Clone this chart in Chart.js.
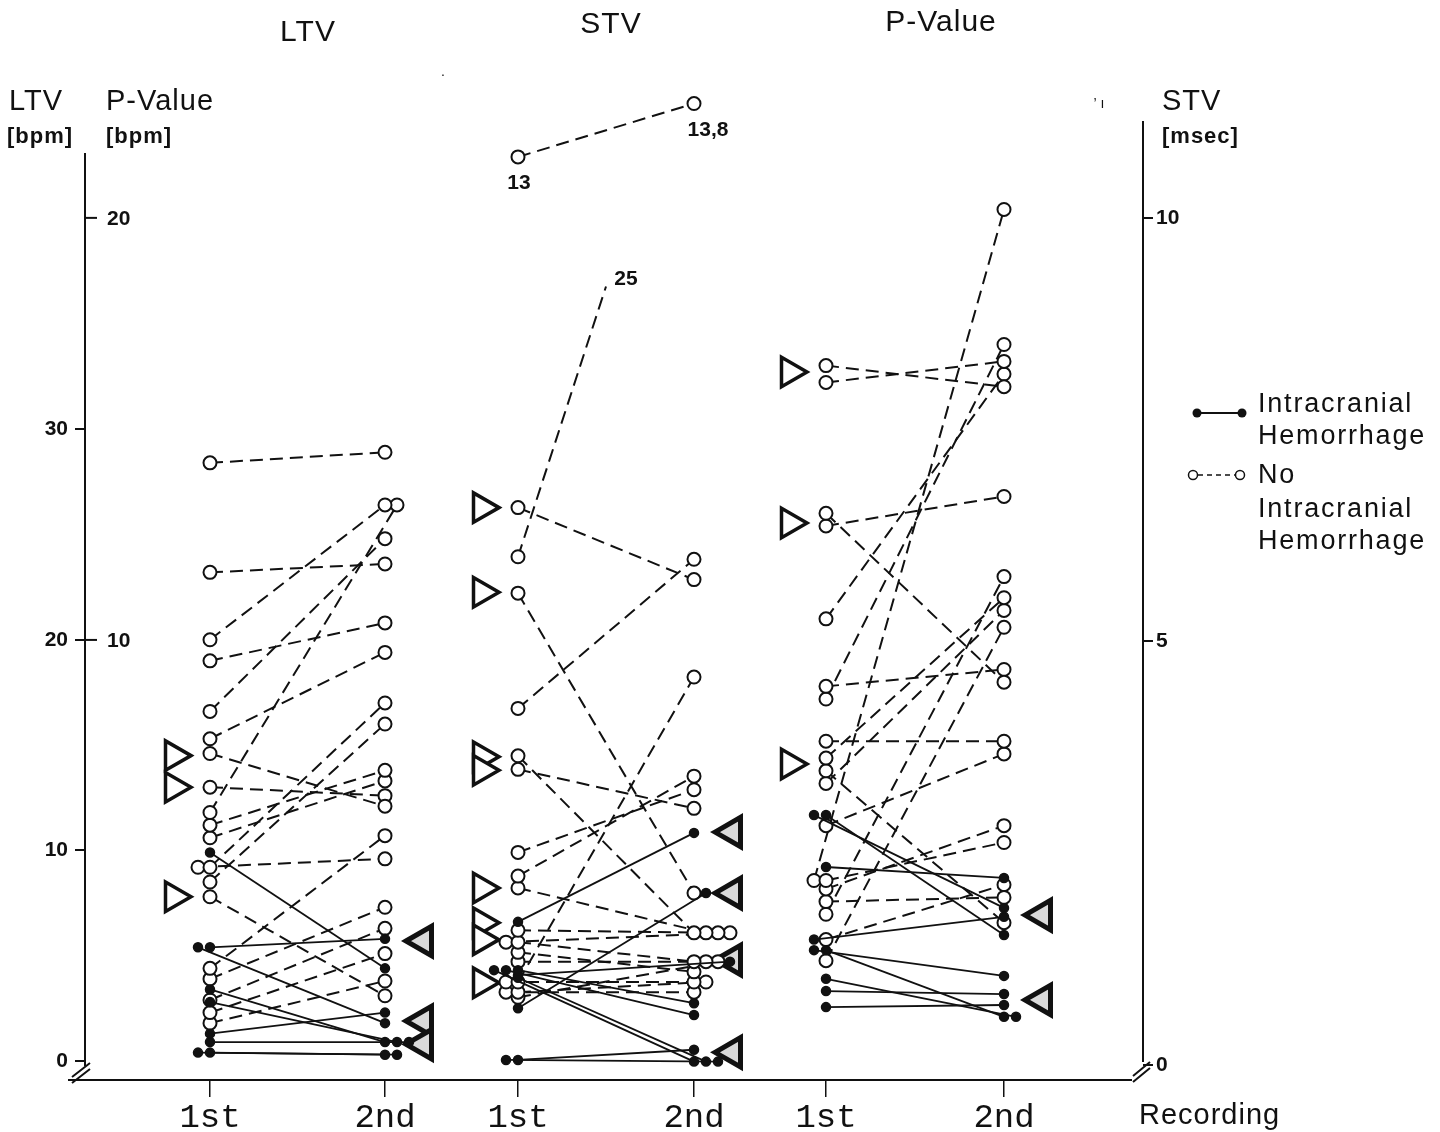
<!DOCTYPE html>
<html lang="en">
<head>
<meta charset="UTF-8">
<title>LTV, STV and P-Value at 1st and 2nd recording</title>
<script src="https://cdn.jsdelivr.net/npm/chart.js"></script>
<style>
body { margin: 0; background: #fff; }
#wrap { width: 1440px; height: 1132px; }
</style>
</head>
<body>
<div id="wrap"><canvas id="chart" width="1440" height="1132"></canvas></div>
<script>
const recordings = ['1st', '2nd'];
const ltvTicks = [0, 10, 20, 30];
const pTicks = [10, 20];
const stvTicks = [0, 5, 10];

// LTV [bpm] - one entry per patient, 1st and 2nd recording
const ltvNoIch1st = [28.4, 23.2, 20.0, 19.0, 16.6, 15.3, 14.6, 13.0, 11.8, 11.2, 10.6, 9.2, 9.2, 8.5, 7.8, 4.4, 3.9, 2.9, 2.3, 1.8];
const ltvNoIch2nd = [28.9, 23.6, 26.4, 20.8, 24.8, 19.4, 12.1, 12.6, 26.4, 13.8, 13.3, 17.0, 9.6, 16.0, 3.1, 10.7, 7.3, 6.3, 5.1, 3.8];
const ltvIch1st = [9.9, 5.4, 5.4, 3.4, 2.8, 1.3, 0.9, 0.4, 0.4];
const ltvIch2nd = [4.4, 5.8, 1.8, 0.9, 0.9, 2.3, 0.9, 0.3, 0.3];

// STV [msec]
const stvNoIch1st = [6.58, 5.57, 4.21, 3.65, 3.49, 2.51, 2.23, 2.09, 0.98, 1.59, 1.45, 1.45, 1.33, 1.22, 0.98, 0.86, 0.86, 0.80];
const stvNoIch2nd = [5.73, 2.03, 5.97, 1.56, 3.03, 3.25, 3.41, 1.56, 4.58, 1.56, 1.22, 1.56, 1.10, 1.22, 0.98, 0.98, 0.86, 1.22];
const stvIch1st = [1.69, 0.67, 1.12, 1.12, 1.12, 1.06, 1.03, 0.06, 0.06];
const stvIch2nd = [2.74, 2.03, 0.73, 0.59, 0.04, 1.22, 0.04, 0.18, 0.04];
// off-scale STV cases: where they are drawn, and the printed value
const stvTopPair = [10.72, 11.35];
const stvTopLabels = ['13', '13,8'];
const stvBroken1st = 6.0;
const stvBrokenShown = 9.19;
const stvBrokenLabel = '25';

// P-Value [bpm]
const pNoIch1st = [16.5, 16.1, 13.0, 12.7, 10.5, 8.9, 8.6, 7.6, 7.2, 6.9, 6.6, 5.6, 4.3, 4.3, 4.1, 3.8, 3.5, 2.9, 2.4];
const pNoIch2nd = [16.0, 16.6, 9.0, 13.4, 16.3, 9.3, 17.0, 7.6, 11.0, 3.3, 10.7, 7.3, 5.2, 20.2, 5.6, 3.9, 11.5, 4.2, 10.3];
const pIch1st = [5.85, 5.85, 4.62, 2.9, 2.65, 2.65, 1.97, 1.68, 1.30];
const pIch2nd = [3.01, 3.65, 4.36, 3.44, 1.07, 2.04, 1.07, 1.61, 1.35];

// triangle marks beside the columns
const ltvOpenMarks = [14.5, 13.0, 7.8];
const ltvShadedMarks = [5.7, 1.9, 0.8];
const stvOpenMarks = [6.58, 5.58, 3.64, 3.48, 2.09, 1.68, 1.48, 0.97];
const stvShadedMarks = [2.75, 2.03, 1.24, 0.15];
const pOpenMarks = [16.35, 12.77, 7.06];
const pShadedMarks = [3.48, 1.47];

const INK = '#111';
const DODGE = 12;

const groups = [
    { axis: 'y', cols: [125, 300], noIch: [ltvNoIch1st, ltvNoIch2nd], ich: [ltvIch1st, ltvIch2nd], open: ltvOpenMarks, shaded: ltvShadedMarks },
    { axis: 'y2', cols: [433, 609], noIch: [stvNoIch1st, stvNoIch2nd], ich: [stvIch1st, stvIch2nd], open: stvOpenMarks, shaded: stvShadedMarks },
    { axis: 'y3', cols: [741, 919], noIch: [pNoIch1st, pNoIch2nd], ich: [pIch1st, pIch2nd], open: pOpenMarks, shaded: pShadedMarks }
];

function pairStyle(ich) {
    return {
        showLine: true,
        order: ich ? 0 : 1,
        borderColor: INK,
        borderWidth: ich ? 1.8 : 2,
        borderDash: ich ? [] : [13, 7],
        pointRadius: ich ? 4.5 : 6.5,
        pointBorderWidth: ich ? 1.5 : 2,
        pointBackgroundColor: ich ? INK : '#fff',
        pointBorderColor: INK
    };
}

const datasets = [];
groups.forEach(g => {
    const used = {};
    // equal values in one column are set side by side
    const place = (col, v) => {
        const key = col + ':' + v;
        const n = used[key] || 0;
        used[key] = n + 1;
        return g.cols[col] + (col === 0 ? -1 : 1) * n * DODGE;
    };
    const addPairs = (pair, ich) => {
        pair[0].forEach((v1, i) => {
            const v2 = pair[1][i];
            datasets.push(Object.assign({
                data: [{ x: place(0, v1), y: v1 }, { x: place(1, v2), y: v2 }],
                yAxisID: g.axis
            }, pairStyle(ich)));
        });
    };
    addPairs(g.noIch, false);
    addPairs(g.ich, true);

    datasets.push({
        data: g.open.map(v => ({ x: g.cols[0] - 36, y: v })),
        yAxisID: g.axis, order: 2, showLine: false,
        pointStyle: 'triangle', pointRotation: 90, pointRadius: 17,
        pointBorderWidth: 3.5, pointBackgroundColor: '#fff', pointBorderColor: INK
    });
    datasets.push({
        data: g.shaded.map(v => ({ x: g.cols[1] + 38, y: v })),
        yAxisID: g.axis, order: 2, showLine: false,
        pointStyle: 'triangle', pointRotation: -90, pointRadius: 17,
        pointBorderWidth: 5, pointBackgroundColor: '#dadada', pointBorderColor: INK
    });
});

const stv = groups[1];
const topIdx = datasets.length;
datasets.push(Object.assign({
    data: [{ x: stv.cols[0], y: stvTopPair[0] }, { x: stv.cols[1], y: stvTopPair[1] }],
    yAxisID: 'y2'
}, pairStyle(false)));
const brokenIdx = datasets.length;
datasets.push(Object.assign({
    data: [{ x: stv.cols[0], y: stvBroken1st }, { x: (stv.cols[0] + stv.cols[1]) / 2, y: stvBrokenShown }],
    yAxisID: 'y2'
}, pairStyle(false), { pointRadius: [6.5, 0] }));

const colPos = [];
groups.forEach(g => colPos.push(g.cols[0], g.cols[1]));

const decor = {
    id: 'decor',
    afterDraw(chart) {
        const ctx = chart.ctx;
        const area = chart.chartArea;
        const y3 = chart.scales.y3;
        ctx.save();
        ctx.fillStyle = INK;
        ctx.strokeStyle = INK;
        ctx.setLineDash([]);

        // axis lines and breaks
        ctx.lineWidth = 2;
        ctx.beginPath();
        ctx.moveTo(area.left, 153); ctx.lineTo(area.left, 1066);
        ctx.moveTo(area.right, 121); ctx.lineTo(area.right, 1062);
        ctx.moveTo(68, area.bottom); ctx.lineTo(1132, area.bottom);
        ctx.moveTo(72, 1077); ctx.lineTo(90, 1063);
        ctx.moveTo(72, 1083); ctx.lineTo(90, 1069);
        ctx.moveTo(1133, 1076); ctx.lineTo(1150, 1062);
        ctx.moveTo(1133, 1082); ctx.lineTo(1150, 1068);
        ctx.stroke();

        // P-Value ticks inside the left axis
        ctx.font = 'bold 21px "Liberation Sans"';
        ctx.textAlign = 'left';
        ctx.textBaseline = 'middle';
        pTicks.forEach(v => {
            const py = y3.getPixelForValue(v);
            ctx.beginPath();
            ctx.moveTo(area.left, py); ctx.lineTo(area.left + 12, py);
            ctx.stroke();
            ctx.fillText(String(v), area.left + 22, py + 1);
        });

        // value labels of off-scale STV cases
        const top = chart.getDatasetMeta(topIdx).data;
        ctx.textAlign = 'center';
        ctx.fillText(stvTopLabels[0], top[0].x + 1, top[0].y + 26);
        ctx.fillText(stvTopLabels[1], top[1].x + 14, top[1].y + 27);
        const br = chart.getDatasetMeta(brokenIdx).data;
        ctx.fillText(stvBrokenLabel, br[1].x + 20, br[1].y - 7);

        // stray print marks
        ctx.font = '14px "Liberation Sans"';
        ctx.fillText('.', 443, 72);
        ctx.fillText('\u2019 \u0131', 1099, 104);

        // group titles
        ctx.letterSpacing = '1px';
        ctx.font = '30px "Liberation Sans"';
        ctx.fillText('LTV', 308, 33);
        ctx.fillText('STV', 611, 25);
        ctx.fillText('P-Value', 941, 23);

        // axis headings
        ctx.textAlign = 'left';
        ctx.font = '29px "Liberation Sans"';
        ctx.fillText('LTV', 9, 102);
        ctx.fillText('P-Value', 106, 102);
        ctx.fillText('STV', 1162, 102);
        ctx.fillText('Recording', 1139, 1116);
        ctx.font = 'bold 22px "Liberation Sans"';
        ctx.fillText('[bpm]', 7, 137);
        ctx.fillText('[bpm]', 106, 137);
        ctx.fillText('[msec]', 1162, 137);

        // legend
        ctx.letterSpacing = '0px';
        ctx.lineWidth = 2;
        ctx.beginPath();
        ctx.moveTo(1197, 413); ctx.lineTo(1242, 413);
        ctx.stroke();
        [1197, 1242].forEach(cx => {
            ctx.beginPath(); ctx.arc(cx, 413, 4.5, 0, Math.PI * 2); ctx.fill();
        });
        ctx.lineWidth = 1.5;
        ctx.setLineDash([5, 4]);
        ctx.beginPath();
        ctx.moveTo(1198, 475); ctx.lineTo(1236, 475);
        ctx.stroke();
        ctx.setLineDash([]);
        [1193, 1240].forEach(cx => {
            ctx.beginPath(); ctx.arc(cx, 475, 4.5, 0, Math.PI * 2);
            ctx.fillStyle = '#fff'; ctx.fill(); ctx.stroke();
        });
        ctx.fillStyle = INK;
        ctx.font = '27px "Liberation Sans"';
        ctx.letterSpacing = '1.8px';
        ctx.fillText('Intracranial', 1258, 405);
        ctx.fillText('Hemorrhage', 1258, 437);
        ctx.fillText('No', 1258, 476);
        ctx.fillText('Intracranial', 1258, 510);
        ctx.fillText('Hemorrhage', 1258, 542);
        ctx.restore();
    }
};

const tickFont = { family: 'Liberation Sans', size: 21, weight: 'bold' };

new Chart(document.getElementById('chart').getContext('2d'), {
    type: 'scatter',
    data: { datasets: datasets },
    options: {
        responsive: false,
        devicePixelRatio: 1,
        animation: false,
        layout: { padding: { top: 90, left: 0, right: 0, bottom: 0 } },
        plugins: { legend: { display: false }, tooltip: { enabled: false } },
        scales: {
            x: {
                type: 'linear', min: 0, max: 1058,
                afterBuildTicks: s => { s.ticks = colPos.map(v => ({ value: v })); },
                afterFit: s => { s.height = 52; },
                ticks: {
                    callback: (v, i) => recordings[i % 2],
                    font: { family: 'Liberation Mono', size: 34 },
                    color: INK, padding: 1, autoSkip: false, maxRotation: 0
                },
                grid: { drawOnChartArea: false, tickLength: 17, color: INK, lineWidth: 1.5 },
                border: { display: false }
            },
            y: {
                position: 'left', min: -0.9, max: 46.1,
                afterBuildTicks: s => { s.ticks = ltvTicks.map(v => ({ value: v })); },
                afterFit: s => { s.width = 85; },
                ticks: { font: tickFont, color: INK, padding: 7 },
                grid: { drawOnChartArea: false, tickLength: 10, color: INK, lineWidth: 2 },
                border: { display: false }
            },
            y2: {
                position: 'right', min: -0.177, max: 11.51,
                afterBuildTicks: s => { s.ticks = stvTicks.map(v => ({ value: v })); },
                afterFit: s => { s.width = 297; },
                ticks: { font: tickFont, color: INK, padding: 3 },
                grid: { drawOnChartArea: false, tickLength: 10, color: INK, lineWidth: 2 },
                border: { display: false }
            },
            y3: { display: false, position: 'right', min: -0.427, max: 23.03 }
        }
    },
    plugins: [decor]
});
</script>
</body>
</html>
